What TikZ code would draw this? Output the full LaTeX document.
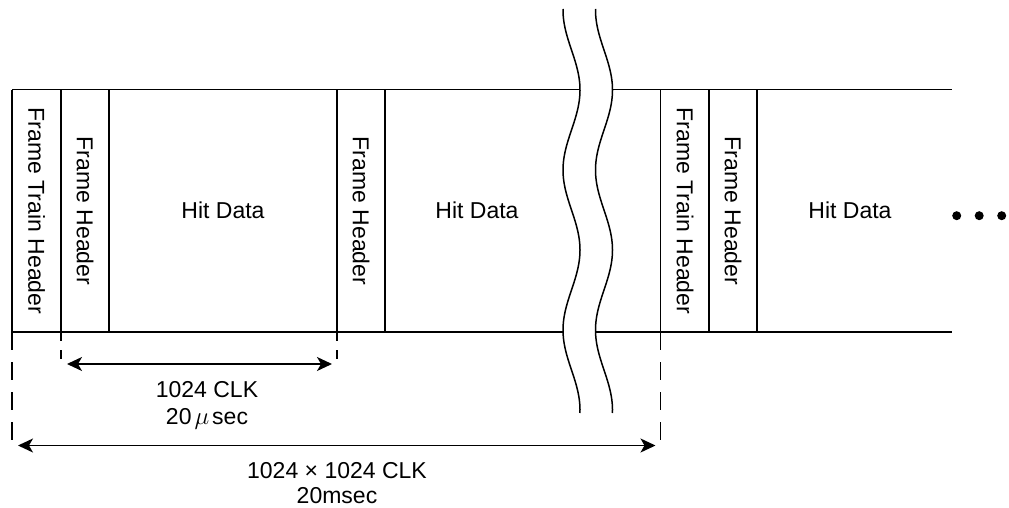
\documentclass[tikz,border=0pt]{standalone}
\usepackage{fontspec}
\setmainfont{Liberation Sans}
\usetikzlibrary{arrows.meta}
\begin{document}
\begin{tikzpicture}[x=1pt,y=-1pt,
  line width=1.5pt,
  lbl/.style={font=\fontsize{23}{27}\selectfont, inner sep=0pt},
  vlbl/.style={lbl, rotate=-90},
  dot/.style={circle, fill=black, inner sep=0pt, minimum size=9pt},
  dim/.style={line width=1.4pt, {Stealth[length=15pt,width=14pt,inset=4pt]}-{Stealth[length=15pt,width=14pt,inset=4pt]}},
  extlong/.style={line width=1.4pt, dash pattern=on 18pt off 12pt},
  extshort/.style={line width=1.4pt, dash pattern=on 9pt off 9pt},
  wave/.style={line width=1.5pt}
]
\useasboundingbox (0,0) rectangle (1009,508);

% cell boundaries
\foreach \n/\x in {0/12,1/61,2/109,3/337,4/385,5/660.5,6/709,7/757}{
  \coordinate (t\n) at (\x,89.7);
  \coordinate (b\n) at (\x,332);
  \draw (t\n) -- (b\n);
}
\coordinate (tend) at (952,89.7);
\coordinate (bend) at (952,332);
\draw (t0) -- (tend);
\draw (b0) -- (bend);

% break (wavy band)
\fill[white] plot[domain=9:413,samples=120,variable=\t] ({571.5-8.5*cos(2.25*(\t-10))},\t)
  -- plot[domain=413:9,samples=120,variable=\t] ({604-8.5*cos(2.25*(\t-10))},\t) -- cycle;
\draw[wave] plot[domain=9:413,samples=120,variable=\t] ({571.5-8.5*cos(2.25*(\t-10))},\t);
\draw[wave] plot[domain=9:413,samples=120,variable=\t] ({604-8.5*cos(2.25*(\t-10))},\t);

% labels in cells
\node[vlbl] (fth1) at (36.5,211) {Frame Train Header};
\node[vlbl] (fh1) at (85,211) {Frame Header};
\node[lbl] (hd1) at (223,210) {Hit Data};
\node[vlbl] (fh2) at (361,211) {Frame Header};
\node[lbl] (hd2) at (477,210) {Hit Data};
\node[vlbl] (fth2) at (685,211) {Frame Train Header};
\node[vlbl] (fh3) at (733,211) {Frame Header};
\node[lbl] (hd3) at (850,210) {Hit Data};

% continuation dots
\node[dot] (d1) at (956.7,215.7) {};
\node[dot] (d2) at (979.2,215.7) {};
\node[dot] (d3) at (1001.7,215.7) {};

% extension lines
\coordinate (e0) at (12,447);
\coordinate (e1) at (61,360);
\coordinate (e3) at (337,360);
\coordinate (e5) at (660.5,447);
\draw[extlong] (b0) -- (e0);
\draw[extshort] (b1) -- (e1);
\draw[extshort] (b3) -- (e3);
\draw[extlong] (b5) -- (e5);

% dimension arrows
\coordinate (a1l) at (67,364);
\coordinate (a1r) at (332,364);
\coordinate (a2l) at (18,445.5);
\coordinate (a2r) at (655.5,445.5);
\draw[dim] (a1l) -- (a1r);
\draw[dim] (a2l) -- (a2r);

\node[lbl, anchor=base] (clk1) at (207,397) {1024 CLK};
\node[lbl, anchor=base] (us1) at (207,424) {20\kern3pt$\mu$\kern3pt sec};
\node[lbl, anchor=base] (clk2) at (337,478) {1024 × 1024 CLK};
\node[lbl, anchor=base] (ms2) at (337,503) {20msec};
\end{tikzpicture}
\end{document}
